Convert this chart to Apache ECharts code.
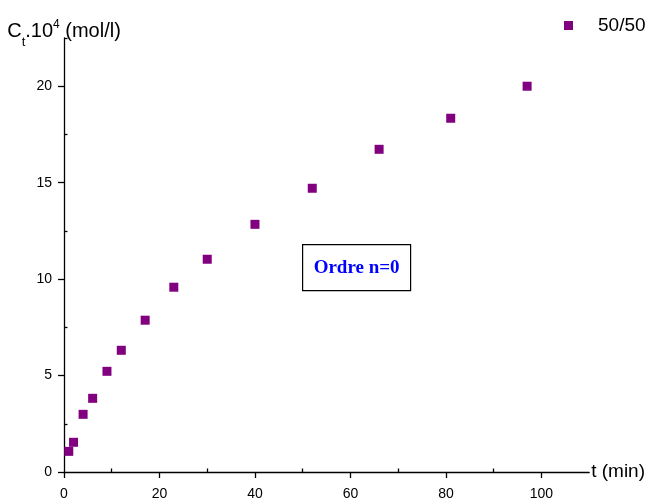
<!DOCTYPE html>
<html>
<head>
<meta charset="utf-8">
<script src="https://cdn.jsdelivr.net/npm/echarts@6/dist/echarts.min.js"></script>
<style>
  html, body { margin: 0; padding: 0; background: #fff; }
  #chart { width: 648px; height: 502px; }
</style>
</head>
<body>
<div id="chart"></div>
<script>
const seriesName = "50/50"
const times = [1, 2, 4, 6, 9, 12, 17, 23, 30, 40, 52, 66, 81, 97]
const conc = [1.07, 1.54, 2.99, 3.82, 5.22, 6.31, 7.87, 9.58, 11.03, 12.84, 14.71, 16.73, 18.34, 20.0]
const xMajorTicks = [0, 20, 40, 60, 80, 100]
const xMinorTicks = [10, 30, 50, 70, 90]
const yMajorTicks = [0, 5, 10, 15, 20]
const yMinorTicks = [2.5, 7.5, 12.5, 17.5, 22.5]

const chart = echarts.init(document.getElementById("chart"))
const font = "Liberation Sans, Arial, sans-serif"

function axisPair(dir, max, majors, minors, extra) {
  const base = {
    type: "value",
    min: 0,
    max: max,
    splitLine: { show: false },
  }
  return [
    Object.assign({}, base, extra, {
      axisLine: { show: true, lineStyle: { color: "#000", width: 1.3 } },
      axisTick: { show: true, length: 6, customValues: majors, lineStyle: { color: "#000", width: 1.3 } },
      axisLabel: { show: true, customValues: majors, color: "#000", fontSize: 14, fontFamily: font, margin: dir === "x" ? 15 : 12 },
    }),
    Object.assign({}, base, {
      axisLine: { show: false },
      axisTick: { show: true, length: 3.5, customValues: minors, lineStyle: { color: "#000", width: 1.3 } },
      axisLabel: { show: false },
    }),
  ]
}

const option = {
  animation: false,
  grid: { left: 64, right: 58, top: 38, bottom: 30 },
  legend: {
    left: 559,
    top: 11,
    icon: "rect",
    itemWidth: 9,
    itemHeight: 9,
    data: [seriesName],
    textStyle: { color: "#000", fontSize: 19, fontFamily: font, padding: [0, 0, 0, 20] },
  },
  xAxis: axisPair("x", 110, xMajorTicks, xMinorTicks, {
    name: "t (min)",
    nameLocation: "end",
    nameGap: 2,
    nameTextStyle: { color: "#000", fontSize: 19, fontFamily: font, verticalAlign: "bottom", padding: [0, 0, -9, 0] },
  }),
  yAxis: axisPair("y", 22.5, yMajorTicks, yMinorTicks, {
    name: "C{sub|t}.10{sup|4} (mol/l)",
    nameLocation: "end",
    nameGap: -3,
    nameTextStyle: {
      color: "#000", fontSize: 20, fontFamily: font,
      rich: {
        sub: { fontSize: 13, fontFamily: font, color: "#000", verticalAlign: "bottom", padding: [0, 0, -8, 0] },
        sup: { fontSize: 12, fontFamily: font, color: "#000", verticalAlign: "top", padding: [-2, 0, 0, 0] },
      },
    },
  }),
  series: [
    {
      name: seriesName,
      type: "scatter",
      symbol: "rect",
      symbolSize: 9,
      itemStyle: { color: "#800080", opacity: 1 },
      data: times.map((t, i) => [t, conc[i]]),
    },
  ],
  graphic: [
    {
      type: "group",
      left: 302,
      top: 244,
      children: [
        { type: "rect", shape: { x: 0, y: 0, width: 108, height: 46 }, style: { fill: "#fff", stroke: "#000", lineWidth: 1.2 } },
        { type: "text", x: 54, y: 23, style: { text: "Ordre n=0", fill: "#0000ff", font: "bold 19px 'Liberation Serif', 'Times New Roman', serif", align: "center", verticalAlign: "middle" } },
      ],
    },
  ],
}
chart.setOption(option)
</script>
</body>
</html>
